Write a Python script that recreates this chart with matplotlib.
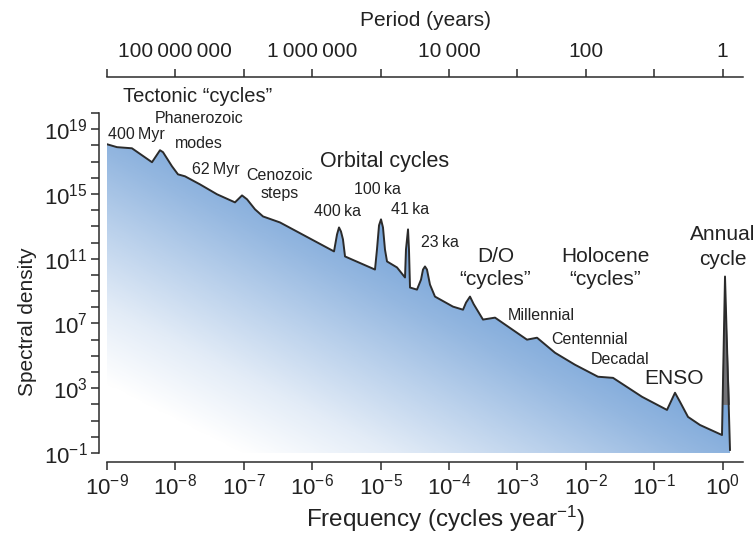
import numpy as np
import matplotlib
matplotlib.use("Agg")
import matplotlib.pyplot as plt
from matplotlib.colors import LinearSegmentedColormap

plt.rcParams['font.family'] = ['Liberation Sans', 'DejaVu Sans']
plt.rcParams['mathtext.fontset'] = 'custom'
plt.rcParams['mathtext.rm'] = 'Liberation Sans'
plt.rcParams['mathtext.it'] = 'Liberation Sans:italic'
plt.rcParams['mathtext.bf'] = 'Liberation Sans:bold'
plt.rcParams['mathtext.default'] = 'regular'

# spectrum: log10 frequency (cycles/yr), log10 spectral density
log_freq = [-9.000, -8.854, -8.635, -8.342, -8.225, -8.181, -8.050, -7.962, -7.860,
            -7.640, -7.392, -7.129, -7.026, -6.953, -6.836, -6.719, -6.471,
            -5.681, -5.637, -5.608, -5.579, -5.550, -5.520, -5.418,
            -5.082, -5.053, -5.023, -4.994, -4.965, -4.936, -4.906, -4.760,
            -4.643, -4.629, -4.599, -4.585, -4.570, -4.468,
            -4.409, -4.380, -4.351, -4.322, -4.278, -4.205, -3.942, -3.795,
            -3.751, -3.693, -3.640, -3.503, -3.327, -2.860, -2.713,
            -2.450, -2.158, -1.822, -1.602, -1.178, -0.813, -0.696, -0.623,
            -0.506, -0.331, -0.009, 0.035, 0.108]
log_psd = [18.07, 17.89, 17.82, 16.96, 17.70, 17.58, 16.71, 16.21, 16.09,
           15.59, 14.98, 14.48, 14.91, 14.67, 14.05, 13.61, 13.24,
           11.45, 12.50, 12.93, 12.68, 12.19, 11.14, 10.95,
           10.33, 11.57, 13.06, 13.43, 12.93, 11.57, 10.83, 10.46,
           9.84, 11.57, 12.81, 11.57, 9.22, 9.09,
           9.71, 10.33, 10.52, 10.33, 9.40, 8.66, 8.04, 7.85,
           8.29, 8.66, 8.20, 7.24, 7.36, 6.00, 6.12,
           5.19, 4.45, 3.71, 3.64, 2.47, 1.66, 2.72, 2.16,
           1.23, 0.73, 0.11, 9.90, -0.81]
annual_base = 10 ** 1.97

bottom_ticks = [r'$10^{%d}$' % k for k in range(-9, 1)]
period_labels = {-8: '100\u2009000\u2009000', -6: '1\u2009000\u2009000',
                 -4: '10\u2009000', -2: '100', 0: '1'}
psd_labels = [-1, 3, 7, 11, 15, 19]

freq = 10.0 ** np.array(log_freq)
psd = 10.0 ** np.array(log_psd)

ink = '#2b2b2b'
txt = '#222222'
fig = plt.figure(figsize=(7.55, 5.35), dpi=100)
ax = fig.add_axes([0.1417, 0.1533, 0.8424, 0.6355])

ymin = 10 ** -1
poly = ax.fill_between(freq, ymin, psd, facecolor='none', edgecolor='none')
clip = poly.get_paths()[0]

# soft white to blue gradient, running from the lower left corner
gx, gy = np.meshgrid(np.linspace(0, 1, 300), np.linspace(0, 1, 300))
grad = np.clip(1.05 * gx + 1.1 * gy - 0.22, 0, 1)
cmap = LinearSegmentedColormap.from_list(
    'bl', ['#ffffff', '#e3ecf7', '#bcd2ec', '#94b7e0', '#72a1d7'])
im = ax.imshow(grad, extent=[0, 1, 0, 1], origin='lower', transform=ax.transAxes,
               aspect='auto', cmap=cmap, vmin=0, vmax=1, zorder=1)
im.set_clip_path(clip, transform=ax.transData)

near_annual = freq > 0.5
ax.fill_between(freq, annual_base, psd, where=(psd > annual_base) & near_annual,
                interpolate=True, facecolor='#737377', edgecolor='none', zorder=2)
ax.plot(freq, psd, color=ink, lw=1.4, zorder=3, solid_joinstyle='round')

ax.set_xscale('log')
ax.set_yscale('log')
ax.set_xlim(1e-9, 10 ** 0.298)
ax.set_ylim(1e-1, 1e20)

for s in ['top', 'right']:
    ax.spines[s].set_visible(False)
ax.spines['left'].set_position(('outward', 5.5))
ax.spines['bottom'].set_position(('outward', 6.5))
for s in ['left', 'bottom']:
    ax.spines[s].set_linewidth(1.1)
    ax.spines[s].set_color(ink)

ax.set_xticks([10.0 ** k for k in range(-9, 1)])
ax.set_xticklabels(bottom_ticks)
ax.set_yticks([10.0 ** k for k in range(-1, 21)])
ax.set_yticklabels([r'$10^{%d}$' % k if k in psd_labels else '' for k in range(-1, 21)])
ax.minorticks_off()
ax.tick_params(axis='both', which='major', direction='out', length=5.5, width=1.1,
               color=ink, labelcolor=txt, labelsize=16)
ax.tick_params(axis='x', pad=3)
ax.tick_params(axis='y', pad=3)

ax.set_xlabel(r'Frequency (cycles year$^{-1}$)', fontsize=17.5, color=txt)
ax.xaxis.set_label_coords(0.533, -0.15)
ax.set_ylabel('Spectral density', fontsize=15, color=txt)
ax.yaxis.set_label_coords(-0.11, 0.385)

top = ax.twiny()
top.set_xscale('log')
top.set_xlim(ax.get_xlim())
top.set_xticks([10.0 ** k for k in range(-9, 1)])
top.set_xticklabels([period_labels.get(k, '') for k in range(-9, 1)])
top.minorticks_off()
for s in ['left', 'right', 'bottom']:
    top.spines[s].set_visible(False)
top.spines['top'].set_position(('outward', 26))
top.spines['top'].set_linewidth(1.1)
top.spines['top'].set_color(ink)
top.tick_params(axis='x', which='major', direction='out', length=5.5, width=1.1,
                color=ink, labelcolor=txt, labelsize=15, pad=6)
top.set_xlabel('Period (years)', fontsize=15, color=txt)
top.xaxis.set_label_coords(0.501, 1.255)

def note(lf, ls, s, size):
    ax.text(10 ** lf, 10 ** ls, s, fontsize=size, ha='center', va='center',
            color=txt, zorder=5)

note(-7.67, 21.04, 'Tectonic \u201ccycles\u201d', 14.5)
note(-8.576, 18.69, '400\u2009Myr', 11.5)
note(-7.655, 19.68, 'Phanerozoic', 11.5)
note(-7.655, 18.13, 'modes', 11.5)
note(-7.406, 16.52, '62\u2009Myr', 11.5)
note(-6.485, 16.15, 'Cenozoic', 11.5)
note(-6.47, 15.04, 'steps', 11.5)
note(-4.936, 17.02, 'Orbital cycles', 15.5)
note(-5.04, 15.28, '100\u2009ka', 11.5)
note(-5.637, 13.92, '400\u2009ka', 11.5)
note(-4.57, 14.05, '41\u2009ka', 11.5)
note(-4.132, 12.0, '23\u2009ka', 11.5)
note(-3.313, 11.14, 'D/O', 15)
note(-3.327, 9.71, '\u201ccycles\u201d', 15)
note(-1.72, 11.14, 'Holocene', 15)
note(-1.72, 9.71, '\u201ccycles\u201d', 15)
note(0.0, 12.5, 'Annual', 15)
note(0.0, 10.95, 'cycle', 15)
note(-2.655, 7.48, 'Millennial', 11.5)
note(-1.939, 6.0, 'Centennial', 11.5)
note(-1.5, 4.76, 'Decadal', 11.5)
note(-0.711, 3.58, 'ENSO', 15)

fig.savefig('out.png', dpi=100)
